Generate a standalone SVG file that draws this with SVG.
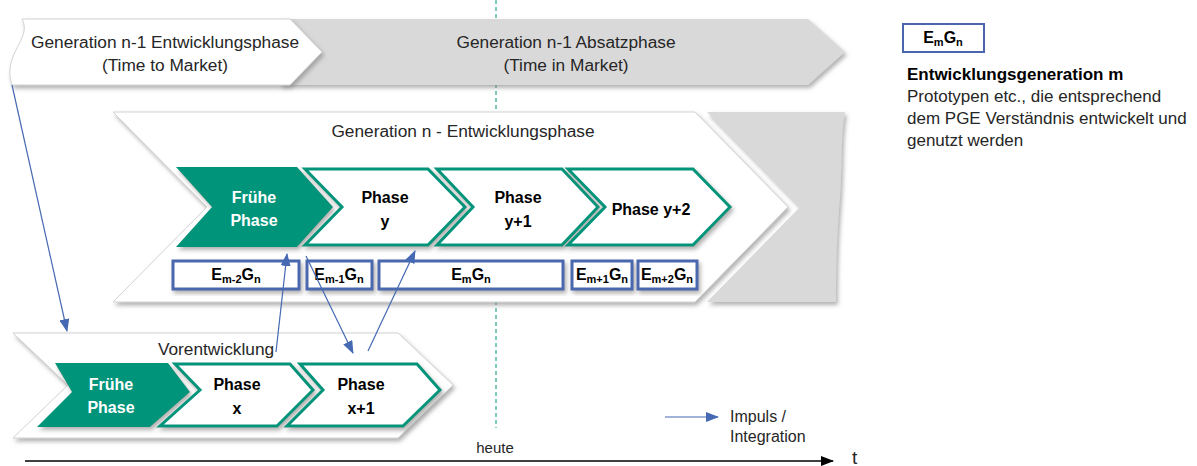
<svg xmlns="http://www.w3.org/2000/svg" width="1197" height="466" viewBox="0 0 1197 466">
  <defs>
    <filter id="shadow" x="-10%" y="-10%" width="125%" height="135%">
      <feDropShadow dx="2" dy="3" stdDeviation="2" flood-color="#7f7f7f" flood-opacity="0.6"/>
    </filter>
    <marker id="blueHead" markerUnits="userSpaceOnUse" markerWidth="13" markerHeight="10" refX="12" refY="5" orient="auto">
      <path d="M0,0 L13,5 L0,10 Z" fill="#4569b3"/>
    </marker>
    <marker id="blackHead" markerUnits="userSpaceOnUse" markerWidth="13" markerHeight="10" refX="12" refY="5" orient="auto">
      <path d="M0,0 L13,5 L0,10 Z" fill="#000"/>
    </marker>
  </defs>
  <style>
    text { font-family: "Liberation Sans", Arial, sans-serif; fill: #262626; }
    .lbl { font-size: 17.3px; text-anchor: middle; }
    .bold { font-weight: bold; fill: #000; }
    .ph { font-size: 16px; font-weight: bold; text-anchor: middle; fill: #000; }
    .phw { font-size: 16px; font-weight: bold; text-anchor: middle; fill: #fff; }
    .big { fill: #fff; stroke: #d3d3d3; stroke-width: 1; filter: url(#shadow); }
    .grey { fill: #d9d9d9; filter: url(#shadow); }
    .teal { fill: #00947a; filter: url(#shadow); }
    .step { fill: #fff; stroke: #00947a; stroke-width: 3; stroke-linejoin: miter; filter: url(#shadow); }
    .ebox { fill: #fff; stroke: #4a67ad; stroke-width: 3; filter: url(#shadow); }
    .etxt { font-size: 16px; font-weight: bold; text-anchor: middle; fill: #000; }
    .sub { font-size: 11px; }
    .flow { stroke: #4569b3; stroke-width: 1.2; fill: none; marker-end: url(#blueHead); }
    .note { font-size: 17px; fill: #262626; }
    .small { font-size: 16px; fill: #262626; }
  </style>

  <!-- "heute" marker line, drawn behind the phase shapes -->
  <line id="today-line" x1="496" y1="0" x2="496" y2="428" stroke="#00947a" stroke-width="1" stroke-dasharray="4,3"/>

  <!-- Generation n-1 -->
  <g id="gen-n1-absatz">
    <path class="grey" d="M280,19 L808,19 L845,52 L808,85 L280,85 Z"/>
    <text class="lbl" x="566" y="48">Generation n-1 Absatzphase</text>
    <text class="lbl" x="566" y="71">(Time in Market)</text>
  </g>
  <g id="gen-n1-entwicklung">
    <path class="big" d="M22,19 L290,19 L322,52 L290,85 L12,85 C8,74 10,62 15,52 C21,40 28,30 22,19 Z"/>
    <text class="lbl" x="165" y="48">Generation n-1 Entwicklungsphase</text>
    <text class="lbl" x="165" y="71">(Time to Market)</text>
  </g>

  <!-- Generation n -->
  <g id="gen-n-tail">
    <path class="grey" d="M707,112 L845,112 C840,140 843,170 839,210 C836,250 836,280 836,302 L707,302 L800,207 Z"/>
  </g>
  <g id="gen-n">
    <path class="big" d="M113,112 L695,112 L788,207 L695,302 L113,302 L207,207 Z"/>
    <text class="lbl" x="463" y="137">Generation n - Entwicklungsphase</text>
  </g>
  <g id="gen-n-fruehe">
    <path class="teal" d="M176,167 L297,167 L333,207 L297,247 L176,247 L212,207 Z"/>
    <text class="phw" x="254" y="203">Frühe</text>
    <text class="phw" x="254" y="226">Phase</text>
  </g>
  <g id="gen-n-phase-y">
    <path class="step" d="M305,169 L428,169 L465,207 L428,245 L305,245 L342,207 Z"/>
    <text class="ph" x="385" y="203">Phase</text>
    <text class="ph" x="385" y="227">y</text>
  </g>
  <g id="gen-n-phase-y1">
    <path class="step" d="M437,169 L562,169 L598,207 L562,245 L437,245 L473,207 Z"/>
    <text class="ph" x="518" y="203">Phase</text>
    <text class="ph" x="518" y="227">y+1</text>
  </g>
  <g id="gen-n-phase-y2">
    <path class="step" d="M568,169 L693,169 L730,207 L693,245 L568,245 L605,207 Z"/>
    <text class="ph" x="651" y="215">Phase y+2</text>
  </g>

  <!-- Entwicklungsgenerationen -->
  <g id="e-m-2">
    <rect class="ebox" x="173" y="261" width="126" height="28"/>
    <text class="etxt" x="236" y="280">E<tspan class="sub" dy="3">m-2</tspan><tspan dy="-3">G</tspan><tspan class="sub" dy="3">n</tspan></text>
  </g>
  <g id="e-m-1">
    <rect class="ebox" x="307" y="261" width="65" height="28"/>
    <text class="etxt" x="339" y="280">E<tspan class="sub" dy="3">m-1</tspan><tspan dy="-3">G</tspan><tspan class="sub" dy="3">n</tspan></text>
  </g>
  <g id="e-m">
    <rect class="ebox" x="379" y="261" width="184" height="28"/>
    <text class="etxt" x="471" y="280">E<tspan class="sub" dy="3">m</tspan><tspan dy="-3">G</tspan><tspan class="sub" dy="3">n</tspan></text>
  </g>
  <g id="e-m1">
    <rect class="ebox" x="572" y="261" width="60" height="28"/>
    <text class="etxt" x="602" y="280">E<tspan class="sub" dy="3">m+1</tspan><tspan dy="-3">G</tspan><tspan class="sub" dy="3">n</tspan></text>
  </g>
  <g id="e-m2">
    <rect class="ebox" x="638" y="261" width="59" height="28"/>
    <text class="etxt" x="667" y="280">E<tspan class="sub" dy="3">m+2</tspan><tspan dy="-3">G</tspan><tspan class="sub" dy="3">n</tspan></text>
  </g>

  <!-- Vorentwicklung -->
  <g id="vorentwicklung">
    <path class="big" d="M13,333 L398,333 L453,385 L398,438 L13,438 L68,385 Z"/>
    <text class="lbl" x="216" y="355">Vorentwicklung</text>
  </g>
  <g id="vor-fruehe">
    <path class="teal" d="M55,363 L168,363 L190,392 L150,427 L37,427 L72,392 Z"/>
    <text class="phw" x="111" y="390">Frühe</text>
    <text class="phw" x="111" y="413">Phase</text>
  </g>
  <g id="vor-phase-x">
    <path class="step" d="M175,364 L290,364 L313,390 L277,426 L160,426 L200,390 Z"/>
    <text class="ph" x="237" y="390">Phase</text>
    <text class="ph" x="237" y="414">x</text>
  </g>
  <g id="vor-phase-x1">
    <path class="step" d="M300,364 L417,364 L440,390 L403,426 L287,426 L323,390 Z"/>
    <text class="ph" x="361" y="390">Phase</text>
    <text class="ph" x="361" y="414">x+1</text>
  </g>

  <!-- Impuls / Integration connectors -->
  <g id="connectors">
    <line class="flow" x1="12" y1="85" x2="67" y2="331"/>
    <line class="flow" x1="276" y1="352" x2="287" y2="254"/>
    <line class="flow" x1="306" y1="256" x2="353" y2="353"/>
    <line class="flow" x1="368" y1="351" x2="415" y2="251"/>
  </g>

  <!-- Legend -->
  <g id="legend-arrow">
    <line class="flow" x1="665" y1="417" x2="718" y2="417"/>
    <text class="small" x="730" y="422">Impuls /</text>
    <text class="small" x="730" y="442">Integration</text>
  </g>
  <g id="legend-box">
    <rect x="903" y="24" width="81" height="28" fill="#fff" stroke="#4a67ad" stroke-width="2"/>
    <text class="etxt" x="943" y="43">E<tspan class="sub" dy="3">m</tspan><tspan dy="-3">G</tspan><tspan class="sub" dy="3">n</tspan></text>
    <text class="bold" x="907" y="80" font-size="17">Entwicklungsgeneration m</text>
    <text class="note" x="907" y="102">Prototypen etc., die entsprechend</text>
    <text class="note" x="907" y="124">dem PGE Verständnis entwickelt und</text>
    <text class="note" x="907" y="146">genutzt werden</text>
  </g>

  <!-- Time axis -->
  <g id="time-axis">
    <line x1="25" y1="461" x2="833" y2="461" stroke="#000" stroke-width="1.3" marker-end="url(#blackHead)"/>
    <text x="852" y="464" font-size="19" fill="#262626">t</text>
    <text x="495" y="453" font-size="15" text-anchor="middle">heute</text>
  </g>
</svg>
